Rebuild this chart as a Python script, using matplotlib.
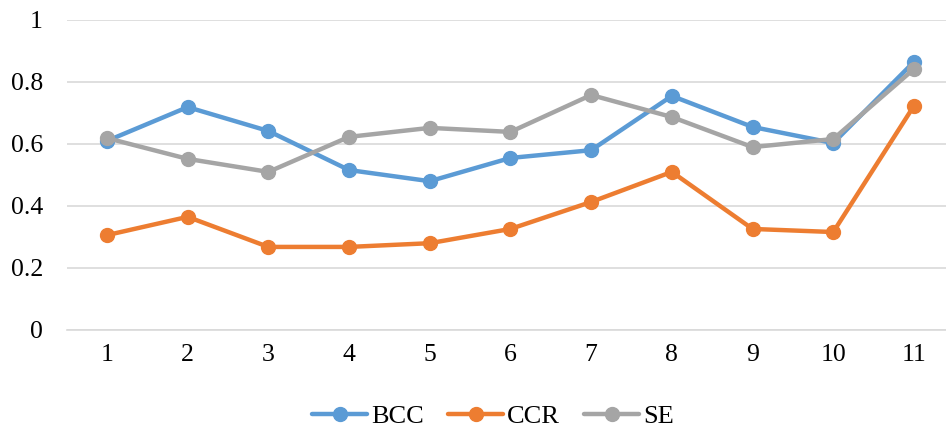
import matplotlib
matplotlib.use("Agg")
import matplotlib.pyplot as plt

categories = [1, 2, 3, 4, 5, 6, 7, 8, 9, 10, 11]
bcc = [0.61, 0.719, 0.642, 0.516, 0.48, 0.555, 0.58, 0.755, 0.655, 0.603, 0.865]
ccr = [0.306, 0.365, 0.268, 0.268, 0.28, 0.326, 0.413, 0.51, 0.326, 0.316, 0.723]
se = [0.619, 0.552, 0.51, 0.623, 0.652, 0.639, 0.758, 0.687, 0.59, 0.616, 0.842]
yticks = [0, 0.2, 0.4, 0.6, 0.8, 1]
ytick_labels = ["0", "0.2", "0.4", "0.6", "0.8", "1"]

plt.rcParams['font.family'] = ['Liberation Serif', 'DejaVu Serif']

W, H = 946, 432
fig = plt.figure(figsize=(W/100, H/100), dpi=100)
left, width = 66.6, 887.7
ax = fig.add_axes([left/W, 1-330/H, width/W, 310/H])

series = [("BCC", bcc, "#5B9BD5"), ("CCR", ccr, "#ED7D31"), ("SE", se, "#A5A5A5")]
x = list(range(len(categories)))
for name, vals, col in series:
    ax.plot(x, vals, color=col, lw=3.2, marker='o', markersize=10,
            markerfacecolor=col, markeredgecolor=col, label=name,
            solid_capstyle='round', clip_on=False)

ax.set_xlim(-0.5, len(categories) - 0.5)
ax.set_ylim(0, 1)
ax.set_yticks(yticks)
ax.set_yticklabels(ytick_labels)
ax.set_xticks(x)
ax.set_xticklabels([str(c) for c in categories])
ax.grid(axis='y', color='#D9D9D9', lw=1.2)
ax.set_axisbelow(True)
for s in ['top', 'right', 'left']:
    ax.spines[s].set_visible(False)
ax.spines['bottom'].set_color('#D9D9D9')
ax.spines['bottom'].set_linewidth(1.2)
ax.tick_params(axis='both', length=0, labelsize=18.5, colors='black')
ax.tick_params(axis='y', pad=17)
ax.tick_params(axis='x', pad=10)

leg = fig.legend(loc='center', bbox_to_anchor=(493/W, 1-416/H), ncol=3, frameon=False,
                 fontsize=19, handlelength=2.1, columnspacing=0.9, handletextpad=0.15,
                 borderaxespad=0, borderpad=0)

fig.savefig("out.png", dpi=100)
